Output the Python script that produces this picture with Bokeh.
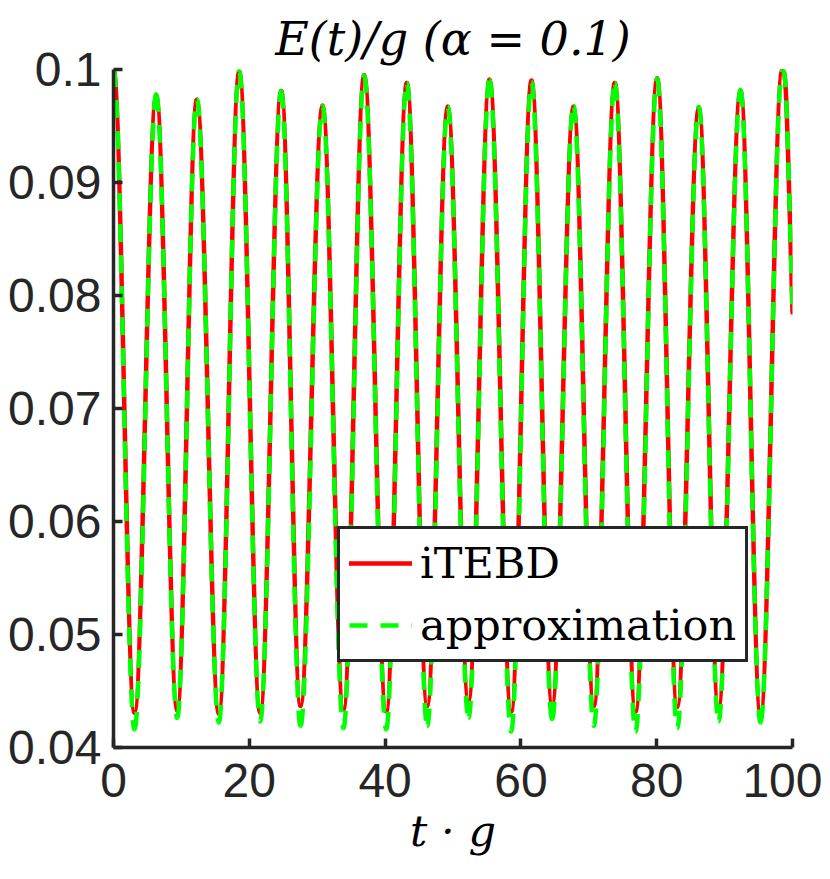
from bokeh.plotting import figure
from bokeh.models import Range1d, FixedTicker, Legend, LegendItem, ColumnDataSource
from bokeh.embed import file_html
from bokeh.resources import INLINE

# ---- data ----
peak_t = [0.0, 6.29, 12.27, 18.51, 24.70, 30.78, 36.92, 43.20, 49.23,
          55.38, 61.56, 67.75, 73.83, 80.07, 86.20, 92.34, 98.48]
itebd_peak = [0.1000, 0.0977, 0.0973, 0.0998, 0.0981, 0.0968, 0.0995, 0.0988, 0.0967,
              0.0991, 0.0990, 0.0967, 0.0988, 0.0992, 0.0966, 0.0981, 0.0999]
approx_peak = [0.1000, 0.0978, 0.0974, 0.0999, 0.0981, 0.0968, 0.0995, 0.0988, 0.0967,
               0.0991, 0.0989, 0.0968, 0.0988, 0.0992, 0.0967, 0.0982, 0.0999]
trough_t = [3.09, 9.38, 15.51, 21.60, 27.54, 33.87, 40.16, 46.20,
            52.28, 58.57, 64.60, 70.74, 76.88, 83.02, 89.10, 95.29]
itebd_trough = [0.0431, 0.0433, 0.0430, 0.0431, 0.0437, 0.0434, 0.0432, 0.0437,
                0.0441, 0.0432, 0.0438, 0.0437, 0.0432, 0.0436, 0.0435, 0.0429]
approx_trough = [0.0416, 0.0426, 0.0422, 0.0423, 0.0419, 0.0417, 0.0416, 0.0419,
                 0.0426, 0.0414, 0.0425, 0.0419, 0.0414, 0.0417, 0.0423, 0.0422]
end_t = 100.0
itebd_end = 0.0785
approx_end = 0.0785

xticks = [0, 20, 40, 60, 80, 100]
yticks = [0.04, 0.05, 0.06, 0.07, 0.08, 0.09, 0.1]
ytick_labels = ["0.04", "0.05", "0.06", "0.07", "0.08", "0.09", "0.1"]

TITLE = "E(t)/g (α = 0.1)"
XLABEL = "t · g"
LABELS = ["iTEBD", "approximation"]


def extrema(peaks, troughs):
    # alternate extrema: peak, trough, peak, ...
    xs, ys = [], []
    for i, (pt, pv) in enumerate(zip(peak_t, peaks)):
        xs.append(pt)
        ys.append(pv)
        if i < len(trough_t):
            xs.append(trough_t[i])
            ys.append(troughs[i])
    return xs, ys


def make_cds(peaks, troughs, end_v):
    xs, ys = extrema(peaks, troughs)
    xs = xs + [end_t]
    ys = ys + [end_v]
    h = 0.3642
    d = dict(x0=[], y0=[], x1=[], y1=[], cx0=[], cy0=[], cx1=[], cy1=[])
    n = len(xs) - 1
    for i in range(n):
        x0, y0, x1, y1 = xs[i], ys[i], xs[i + 1], ys[i + 1]
        dx = x1 - x0
        d["x0"].append(x0); d["y0"].append(y0)
        d["x1"].append(x1); d["y1"].append(y1)
        d["cx0"].append(x0 + h * dx); d["cy0"].append(y0)
        if i == n - 1:
            d["cx1"].append(x0 + h * dx); d["cy1"].append(y0)
        else:
            d["cx1"].append(x1 - h * dx); d["cy1"].append(y1)
    return ColumnDataSource(d)


AX = "#262626"

p = figure(frame_width=679, frame_height=678,
           x_range=Range1d(0, 100), y_range=Range1d(0.04, 0.1),
           output_backend="svg", toolbar_location=None,
           min_border_left=113, min_border_right=30,
           min_border_top=69, min_border_bottom=120)
p.outline_line_color = None
p.grid.visible = False
p.background_fill_color = "white"
p.border_fill_color = "white"

p.title.text = TITLE
p.title.align = "center"
p.title.vertical_align = "top"
p.title.text_font = "DejaVu Serif"
p.title.text_font_style = "italic"
p.title.text_font_size = "46px"
p.title.text_color = "black"
p.title.text_line_height = 0.6
p.title.standoff = 4

for ax in (p.xaxis[0], p.yaxis[0]):
    ax.axis_line_color = AX
    ax.axis_line_width = 3.5
    ax.major_tick_line_color = AX
    ax.major_tick_line_width = 3.5
    ax.major_tick_in = 9
    ax.major_tick_out = 0
    ax.minor_tick_line_color = None
    ax.major_label_text_font = "Liberation Sans"
    ax.major_label_text_font_size = "48px"
    ax.major_label_text_color = AX

p.xaxis.ticker = FixedTicker(ticks=xticks)
p.yaxis.ticker = FixedTicker(ticks=yticks)
p.yaxis.major_label_overrides = dict(zip(yticks, ytick_labels))
p.xaxis.major_label_standoff = 16
p.yaxis.major_label_standoff = 12

p.xaxis.axis_label = XLABEL
p.xaxis.axis_label_text_font = "DejaVu Serif"
p.xaxis.axis_label_text_font_style = "italic"
p.xaxis.axis_label_text_font_size = "43px"
p.xaxis.axis_label_text_color = "black"
p.xaxis.axis_label_standoff = 6

src_red = make_cds(itebd_peak, itebd_trough, itebd_end)
src_green = make_cds(approx_peak, approx_trough, approx_end)

r_red = p.bezier(x0="x0", y0="y0", x1="x1", y1="y1", cx0="cx0", cy0="cy0",
                 cx1="cx1", cy1="cy1", source=src_red,
                 line_color="#ff0000", line_width=4.5, line_cap="round")
r_green = p.bezier(x0="x0", y0="y0", x1="x1", y1="y1", cx0="cx0", cy0="cy0",
                   cx1="cx1", cy1="cy1", source=src_green,
                   line_color="#00ff00", line_width=4.5, line_dash="18 13")

legend = Legend(items=[LegendItem(label=LABELS[0], renderers=[r_red]),
                       LegendItem(label=LABELS[1], renderers=[r_green])],
                location=(224, 85))
legend.margin = 0
legend.padding = 9
legend.spacing = 12
legend.glyph_width = 63
legend.glyph_height = 40
legend.label_standoff = 8
legend.label_text_font = "DejaVu Serif"
legend.label_text_font_size = "43px"
legend.label_text_color = "black"
legend.border_line_color = AX
legend.border_line_width = 3
legend.border_line_alpha = 1.0
legend.background_fill_color = "white"
legend.background_fill_alpha = 1.0
p.add_layout(legend)

open("out.html", "w").write(file_html(p, INLINE))
